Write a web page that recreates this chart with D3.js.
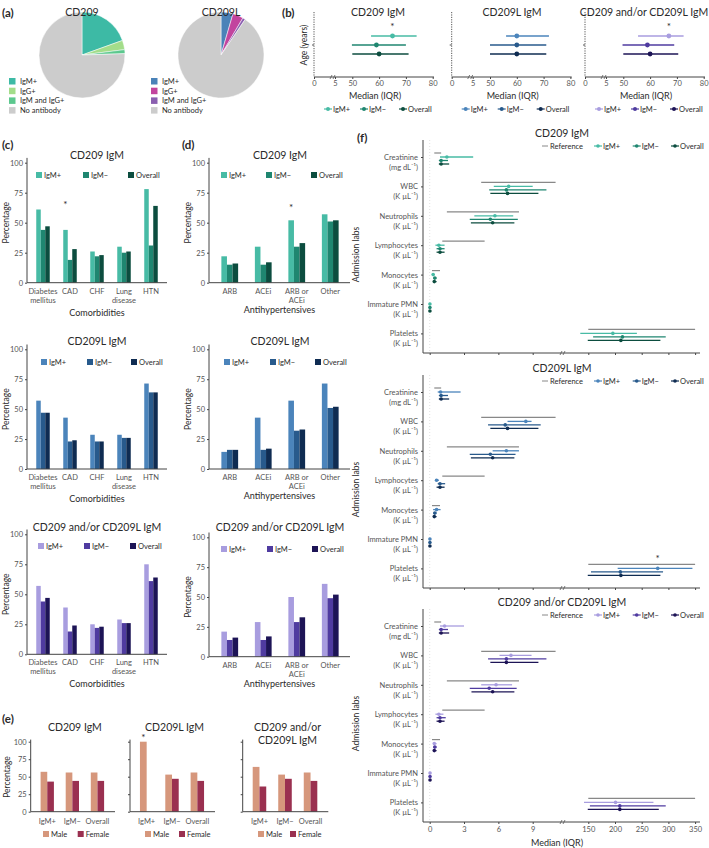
<html>
<head>
<script src="https://cdn.jsdelivr.net/npm/d3@7"></script>
<style>
  body { margin: 0; background: #fff; }
  text { font-family: Lato, "Open Sans", sans-serif; fill: #2a2a2a; }
  .tick text { fill: #555; }
</style>
</head>
<body>
<div id="fig"></div>
<script>
// ---------- data ----------
const pieCategories = ["IgM+", "IgG+", "IgM and IgG+", "No antibody"];
const pieCD209 = [19.5, 3.5, 1.5, 75.5];
const pieCD209L = [4.5, 4, 1, 90.5];

const groupTitles = ["CD209 IgM", "CD209L IgM", "CD209 and/or CD209L IgM"];
const seriesNames = ["IgM+", "IgM\u2212", "Overall"];

// age: per series [low, median, high]
const ageTicks = [0, 5, 50, 60, 70, 80];
const ageCD209 = [[57, 65, 74], [49, 59, 70], [50, 60, 71]];
const ageCD209L = [[56, 60, 72], [50, 60, 71], [50, 60, 71]];
const ageBoth = [[55.5, 67, 72.5], [48, 59, 69], [50, 60, 70.5]];

const pctTicks = [0, 25, 50, 75, 100];
const comorbidities = [["Diabetes", "mellitus"], ["CAD"], ["CHF"], ["Lung", "disease"], ["HTN"]];
// per series (IgM+, IgM-, Overall), values per comorbidity
const comorbCD209 = [[61, 44, 26, 30, 78], [44, 19, 22, 25, 31], [47, 28, 23, 26, 64]];
const comorbCD209L = [[57.1, 42.9, 28.6, 28.6, 71.4], [47, 23, 23, 26, 64], [47, 24, 23, 26, 64]];
const comorbBoth = [[57, 39, 25, 29, 75], [44, 19, 22, 26, 61], [47, 24, 23, 26, 64]];

const antihypertensives = [["ARB"], ["ACEi"], ["ARB or", "ACEi"], ["Other"]];
const antiCD209 = [[22, 30, 52, 57], [15, 15, 30, 51], [16, 17, 33, 52]];
const antiCD209L = [[14.3, 42.9, 57.1, 71.4], [16, 16, 32, 51], [16, 17, 33, 52]];
const antiBoth = [[21, 29, 50, 61], [14, 14, 29, 49], [16, 17, 33, 52]];

const sexNames = ["Male", "Female"];
// per sex, values per group (IgM+, IgM-, Overall)
const sexCD209 = [[57, 56, 56], [43, 44, 44]];
const sexCD209L = [[100, 53, 56], [0, 47, 44]];
const sexBoth = [[64, 53, 56], [36, 47, 44]];

const labs = ["Creatinine", "WBC", "Neutrophils", "Lymphocytes", "Monocytes", "Immature PMN", "Platelets"];
const labUnits = ["(mg dL\u207B\u00B9)", "(K \u00B5L\u207B\u00B9)", "(K \u00B5L\u207B\u00B9)", "(K \u00B5L\u207B\u00B9)",
                  "(K \u00B5L\u207B\u00B9)", "(K \u00B5L\u207B\u00B9)", "(K \u00B5L\u207B\u00B9)"];
const labRef = [[0.4, 1.0], [4.5, 11], [1.5, 7.8], [1.1, 4.8], [0.2, 0.9], null, [150, 350]];
const labTicks = [0, 3, 6, 9, 150, 200, 250, 300, 350];
// per lab: [IgM+, IgM-, Overall], each [low, median, high]
const labCD209 = [
  [[0.9, 1.5, 3.8], [0.8, 1.0, 1.6], [0.8, 1.0, 1.7]],
  [[5.6, 6.9, 9.0], [5.2, 6.7, 10.2], [5.3, 6.8, 9.5]],
  [[3.9, 5.7, 7.3], [3.5, 5.3, 7.7], [3.6, 5.5, 7.4]],
  [[0.5, 0.8, 1.3], [0.6, 0.9, 1.3], [0.6, 0.9, 1.3]],
  [[0.2, 0.3, 0.45], [0.3, 0.45, 0.6], [0.3, 0.4, 0.6]],
  [[0, 0.02, 0.05], [0, 0.02, 0.05], [0, 0.02, 0.05]],
  [[135, 196, 241], [159, 214, 295], [149, 211, 285]]
];
const labCD209L = [
  [[0.7, 0.95, 2.7], [0.8, 1.0, 1.6], [0.8, 1.0, 1.7]],
  [[6.8, 8.4, 8.9], [5.1, 6.6, 9.7], [5.3, 6.8, 9.5]],
  [[5.5, 6.7, 7.8], [3.5, 5.3, 7.5], [3.6, 5.5, 7.4]],
  [[0.5, 0.6, 0.8], [0.7, 0.9, 1.35], [0.6, 0.9, 1.3]],
  [[0.3, 0.6, 0.95], [0.3, 0.45, 0.6], [0.3, 0.4, 0.6]],
  [[0, 0.02, 0.05], [0, 0.02, 0.05], [0, 0.02, 0.05]],
  [[205, 280, 345], [155, 210, 290], [149, 211, 285]]
];
const labBoth = [
  [[0.9, 1.3, 3.0], [0.8, 1.0, 1.6], [0.8, 1.0, 1.7]],
  [[6.1, 7.1, 8.9], [5.1, 6.7, 10.2], [5.3, 6.7, 9.5]],
  [[4.5, 5.8, 7.2], [3.5, 5.2, 7.6], [3.65, 5.5, 7.4]],
  [[0.5, 0.8, 1.2], [0.6, 0.9, 1.4], [0.6, 0.9, 1.3]],
  [[0.3, 0.4, 0.6], [0.3, 0.45, 0.6], [0.3, 0.4, 0.6]],
  [[0, 0.03, 0.06], [0, 0.03, 0.06], [0, 0.03, 0.06]],
  [[142, 201, 272], [153, 209, 295], [149, 209, 282]]
];

// ---------- styles ----------
const palCD209 = ["#47bba5", "#1f8670", "#0c4d3f"];
const palCD209L = ["#4b84bb", "#285a8c", "#0f2c52"];
const palBoth = ["#a89ddf", "#4f3ba0", "#1d1456"];
const pieColCD209 = ["#3dbaa5", "#a3dd8a", "#5cc88e", "#cccccc"];
const pieColCD209L = ["#4a82b8", "#c2449e", "#8a5fb0", "#cccccc"];
const sexCols = ["#d6977c", "#9a3050"];
const titleSize = 10.5;

const svg = d3.select("#fig").append("svg").attr("width", 709).attr("height", 848);

function label(x, y, s, size, anchor, weight) {
  return svg.append("text").attr("x", x).attr("y", y).attr("font-size", size)
    .attr("text-anchor", anchor || "start").attr("font-weight", weight || "normal").text(s);
}
function vlabel(x, y, s, size) {
  return svg.append("text").attr("transform", `translate(${x},${y}) rotate(-90)`)
    .attr("font-size", size).attr("text-anchor", "middle").text(s);
}
function styleAxis(g) {
  g.select(".domain").remove();
  g.selectAll(".tick line").attr("stroke", "#444");
  g.selectAll(".tick text").attr("font-size", 7.5).attr("font-family", "Lato, sans-serif");
}
function breakMark(x, y) {
  svg.append("path").attr("d", `M${x - 3},${y + 2} L${x - 1},${y - 2} M${x},${y + 2} L${x + 2},${y - 2}`)
    .attr("stroke", "#555").attr("stroke-width", 0.8).attr("fill", "none");
}

// ---------- (a) pies ----------
label(2, 17, "(a)", 11.5, "start", "bold");
function drawPie(cx, cy, r, title, values, cols, legX) {
  const arcs = d3.pie().sort(null)(values);
  const arc = d3.arc().innerRadius(0).outerRadius(r);
  svg.append("g").attr("transform", `translate(${cx},${cy})`)
    .selectAll("path").data(arcs).join("path")
    .attr("d", arc).attr("fill", (d, i) => cols[i]).attr("stroke", "#fff").attr("stroke-width", 0.5);
  label(cx, 16, title, titleSize, "middle");
  pieCategories.forEach((c, i) => {
    svg.append("rect").attr("x", legX).attr("y", 78 + i * 9.7).attr("width", 6.5).attr("height", 6.5).attr("fill", cols[i]);
    label(legX + 11, 84 + i * 9.7, c, 7.5);
  });
}
drawPie(82, 55, 43, "CD209", pieCD209, pieColCD209, 9);
drawPie(221, 55, 43, "CD209L", pieCD209L, pieColCD209L, 151);

// ---------- (b) age ----------
label(282, 17, "(b)", 11.5, "start", "bold");
function drawAge(x0, data, pal, title, titleX, star) {
  const x = d3.scaleLinear().domain([0, 5, 50, 80]).range([x0, x0 + 21, x0 + 38.3, x0 + 118.7]);
  const y = d3.scalePoint().domain(seriesNames).range([36, 54]);
  svg.append("line").attr("x1", x0).attr("x2", x0).attr("y1", 12).attr("y2", 77)
    .attr("stroke", "#555").attr("stroke-dasharray", "1.2,1.2");
  svg.append("line").attr("x1", x0 - 2).attr("x2", x0).attr("y1", 45).attr("y2", 45).attr("stroke", "#555");
  svg.append("line").attr("x1", x0).attr("x2", x0 + 120).attr("y1", 77).attr("y2", 77).attr("stroke", "#444");
  const ax = svg.append("g").attr("transform", "translate(0,77)")
    .call(d3.axisBottom(x).tickValues(ageTicks).tickSize(2).tickPadding(2));
  styleAxis(ax);
  breakMark(x0 + 19, 77);
  label(x0 + 61, 99, "Median (IQR)", 9, "middle");
  label(titleX, 16, title, titleSize, "middle");
  const g = svg.append("g");
  g.selectAll("line.iqr").data(data).join("line")
    .attr("x1", d => x(d[0])).attr("x2", d => x(d[2]))
    .attr("y1", (d, i) => y(seriesNames[i])).attr("y2", (d, i) => y(seriesNames[i]))
    .attr("stroke", (d, i) => pal[i]).attr("stroke-width", 1.7);
  g.selectAll("circle").data(data).join("circle")
    .attr("cx", d => x(d[1])).attr("cy", (d, i) => y(seriesNames[i])).attr("r", 2.4)
    .attr("fill", (d, i) => pal[i]);
  if (star) label(x(data[0][1]), y(seriesNames[0]) - 6, "*", 10, "middle");
  [14, 50, 89].forEach((dx, i) => {
    svg.append("line").attr("x1", x0 + dx - 4).attr("x2", x0 + dx + 4).attr("y1", 109).attr("y2", 109)
      .attr("stroke", pal[i]).attr("stroke-width", 1.2);
    svg.append("circle").attr("cx", x0 + dx).attr("cy", 109).attr("r", 2).attr("fill", pal[i]);
    label(x0 + dx + 5, 111.5, seriesNames[i], 7.5);
  });
}
drawAge(314, ageCD209, palCD209, groupTitles[0], 378, true);
drawAge(451.7, ageCD209L, palCD209L, groupTitles[1], 512, false);
drawAge(585, ageBoth, palBoth, groupTitles[2], 644, true);
vlabel(307, 45, "Age (years)", 8.5);

// ---------- (c) / (d) bars ----------
label(2, 149, "(c)", 11.5, "start", "bold");
label(182, 149, "(d)", 11.5, "start", "bold");
function drawBars(o) {
  const y = d3.scaleLinear().domain([0, 100]).range([o.y0, o.y100]);
  const x = d3.scaleBand().domain(d3.range(o.cats.length)).range(o.band).paddingInner(0.5).paddingOuter(0.25);
  const xs = d3.scaleBand().domain(d3.range(o.vals.length)).range([0, x.bandwidth()]);
  const g = svg.append("g");
  o.vals.forEach((arr, s) => {
    g.selectAll(null).data(arr).join("rect")
      .attr("x", (d, i) => x(i) + xs(s)).attr("width", xs.bandwidth())
      .attr("y", d => y(d)).attr("height", d => y(0) - y(d))
      .attr("fill", o.colors[s]);
  });
  svg.append("line").attr("x1", o.axisX).attr("x2", o.axisX).attr("y1", y(104)).attr("y2", o.y0).attr("stroke", "#444");
  svg.append("line").attr("x1", o.axisX).attr("x2", o.xEnd).attr("y1", o.y0).attr("y2", o.y0).attr("stroke", "#444");
  const ya = svg.append("g").attr("transform", `translate(${o.axisX},0)`)
    .call(d3.axisLeft(y).tickValues(pctTicks).tickSize(2).tickPadding(2));
  styleAxis(ya);
  o.cats.forEach((c, i) => {
    const t = svg.append("text").attr("x", x(i) + x.bandwidth() / 2).attr("y", o.y0 + 11)
      .attr("font-size", 7.5).attr("text-anchor", "middle").style("fill", "#555");
    c.forEach((line, k) => t.append("tspan").attr("x", x(i) + x.bandwidth() / 2).attr("dy", k ? 9 : 0).text(line));
  });
  label((o.axisX + o.xEnd) / 2, o.y0 + o.xTitleDy, o.xTitle, 9, "middle");
  label(o.titleX, o.titleY, o.title, titleSize, "middle");
  vlabel(o.yLabX, (o.y0 + o.y100) / 2, "Percentage", 8.5);
  seriesNames.forEach((s, i) => {
    svg.append("rect").attr("x", o.legX[i]).attr("y", o.legY - 3).attr("width", 6).attr("height", 6).attr("fill", o.colors[i]);
    label(o.legX[i] + 8, o.legY + 3, s, 7.5);
  });
  if (o.star) label(x(o.star[0]) + xs(0) + xs.bandwidth() / 2, y(o.vals[0][o.star[0]]) - o.star[1], "*", 10, "middle");
}
const cRows = [
  { y100: 162.7, y0: 282.7, titleY: 159, legY: 175, legX: [36, 83, 128], legXd: [221, 266, 311] },
  { y100: 349.3, y0: 469, titleY: 345, legY: 362, legX: [41, 87, 131], legXd: [224, 270, 315] },
  { y100: 534.3, y0: 654.3, titleY: 531, legY: 546, legX: [38, 84, 130], legXd: [221, 267, 312] }
];
const comorbSets = [comorbCD209, comorbCD209L, comorbBoth];
const antiSets = [antiCD209, antiCD209L, antiBoth];
const pals = [palCD209, palCD209L, palBoth];
cRows.forEach((r, k) => {
  drawBars({ y100: r.y100, y0: r.y0, cats: comorbidities, vals: comorbSets[k], colors: pals[k],
    band: [29.5, 164.5], axisX: 27, xEnd: 167, xTitle: "Comorbidities", xTitleDy: 33,
    title: groupTitles[k], titleX: 97, titleY: r.titleY, yLabX: 9, legY: r.legY, legX: r.legX,
    star: k === 0 ? [1, 22] : null });
  drawBars({ y100: r.y100 + (k === 2 ? 3 : 0), y0: r.y0 + (k === 2 ? 2.4 : 0), cats: antihypertensives, vals: antiSets[k], colors: pals[k],
    band: [213, 347], axisX: 209, xEnd: 350, xTitle: "Antihypertensives", xTitleDy: 30,
    title: groupTitles[k], titleX: 280, titleY: r.titleY, yLabX: 191, legY: r.legY + (k === 2 ? 3 : 0), legX: r.legXd,
    star: k === 0 ? [2, 9] : null });
});

// ---------- (e) sex ----------
label(2, 723, "(e)", 11.5, "start", "bold");
const ePanels = [
  { axisX: 30.7, xEnd: 115, band: [34.7, 110], vals: sexCD209, title: ["CD209 IgM"], legX: [43, 77.7], ticks: true },
  { axisX: 130, xEnd: 215, band: [134, 210], vals: sexCD209L, title: ["CD209L IgM"], legX: [145, 179], star: 0 },
  { axisX: 242.7, xEnd: 328.3, band: [246.7, 323.3], vals: sexBoth, title: ["CD209 and/or", "CD209L IgM"], legX: [258, 290] }
];
ePanels.forEach(p => {
  const y = d3.scaleLinear().domain([0, 100]).range([811.7, 741.7]);
  const x = d3.scaleBand().domain(seriesNames).range(p.band).paddingInner(0.47).paddingOuter(0.235);
  const xs = d3.scaleBand().domain(sexNames).range([0, x.bandwidth()]);
  p.vals.forEach((arr, s) => {
    svg.append("g").selectAll("rect").data(arr).join("rect")
      .attr("x", (d, i) => x(seriesNames[i]) + xs(sexNames[s])).attr("width", xs.bandwidth())
      .attr("y", d => y(d)).attr("height", d => y(0) - y(d)).attr("fill", sexCols[s]);
  });
  svg.append("line").attr("x1", p.axisX).attr("x2", p.axisX).attr("y1", y(103)).attr("y2", y(0)).attr("stroke", "#444");
  svg.append("line").attr("x1", p.axisX).attr("x2", p.xEnd).attr("y1", y(0)).attr("y2", y(0)).attr("stroke", "#444");
  const ya = svg.append("g").attr("transform", `translate(${p.axisX},0)`)
    .call(d3.axisLeft(y).tickValues(pctTicks).tickSize(2).tickPadding(2).tickFormat(p.ticks ? null : ""));
  styleAxis(ya);
  const xa = svg.append("g").attr("transform", `translate(0,${y(0)})`)
    .call(d3.axisBottom(x).tickSize(0).tickPadding(7));
  styleAxis(xa);
  p.title.forEach((t, k) => label((p.axisX + p.xEnd) / 2 + 2, 731 + k * 13, t, titleSize, "middle"));
  sexNames.forEach((s, i) => {
    svg.append("rect").attr("x", p.legX[i]).attr("y", 831).attr("width", 6).attr("height", 6).attr("fill", sexCols[i]);
    label(p.legX[i] + 8, 837, s, 7.5);
  });
  if (p.star !== undefined) label(x(seriesNames[p.star]) + xs(sexNames[0]) + xs.bandwidth() / 2, y(p.vals[0][p.star]) - 1, "*", 10, "middle");
});
vlabel(10, 777, "Percentage", 8.5);

// ---------- (f) admission labs ----------
label(357, 142, "(f)", 11.5, "start", "bold");
function drawLabs(top, data, pal, title, showX, starLab) {
  const bottom = top + 213;
  const y = d3.scalePoint().domain(labs).range([top + 17, top + 17 + 6 * 29.4]);
  const x = d3.scaleLinear().domain([0, 11.5, 100, 350]).range([429.7, 561.3, 561.6, 695.1]);
  const offs = [0, 3.5, 7];
  svg.append("line").attr("x1", x(0)).attr("x2", x(0)).attr("y1", top).attr("y2", bottom)
    .attr("stroke", "#ccc").attr("stroke-width", 0.6).attr("stroke-dasharray", "1,2");
  svg.append("line").attr("x1", 423).attr("x2", 423).attr("y1", top).attr("y2", bottom).attr("stroke", "#444");
  svg.append("line").attr("x1", 423).attr("x2", 700).attr("y1", bottom).attr("y2", bottom).attr("stroke", "#444");
  const ya = svg.append("g").attr("transform", "translate(423,0)").call(d3.axisLeft(y).tickSize(2).tickFormat(""));
  styleAxis(ya);
  const xa = svg.append("g").attr("transform", `translate(0,${bottom})`)
    .call(d3.axisBottom(x).tickValues(labTicks).tickSize(2).tickPadding(3).tickFormat(showX ? null : ""));
  styleAxis(xa);
  breakMark(563, bottom);
  labs.forEach((l, i) => {
    label(418, y(l) + 3, l, 7.5, "end").style("fill", "#555");
    label(418, y(l) + 13, labUnits[i], 7.5, "end").style("fill", "#555");
  });
  const g = svg.append("g");
  g.selectAll("line.ref").data(labRef.map((r, i) => [r, labs[i]]).filter(d => d[0])).join("line")
    .attr("x1", d => x(d[0][0])).attr("x2", d => x(d[0][1]))
    .attr("y1", d => y(d[1]) - 4).attr("y2", d => y(d[1]) - 4)
    .attr("stroke", "#888").attr("stroke-width", 1.2);
  data.forEach((rows, i) => {
    rows.forEach((d, s) => {
      const yy = y(labs[i]) + offs[s];
      g.append("line").attr("x1", x(d[0])).attr("x2", x(d[2])).attr("y1", yy).attr("y2", yy)
        .attr("stroke", pal[s]).attr("stroke-width", 1.3);
      g.append("circle").attr("cx", x(d[1])).attr("cy", yy).attr("r", 1.8).attr("fill", pal[s]);
    });
  });
  if (starLab !== undefined) label(x(data[starLab][0][1]), y(labs[starLab]) - 6, "*", 10, "middle");
  label(562, top - 3, title, titleSize, "middle");
  const ly = top + 6;
  svg.append("line").attr("x1", 542).attr("x2", 548).attr("y1", ly).attr("y2", ly).attr("stroke", "#888").attr("stroke-width", 1);
  label(550, ly + 2.5, "Reference", 7.5);
  [598, 636.7, 675].forEach((mx, i) => {
    svg.append("line").attr("x1", mx - 4).attr("x2", mx + 4).attr("y1", ly).attr("y2", ly).attr("stroke", pal[i]).attr("stroke-width", 1.2);
    svg.append("circle").attr("cx", mx).attr("cy", ly).attr("r", 1.8).attr("fill", pal[i]);
    label(mx + 5, ly + 2.5, seriesNames[i], 7.5);
  });
  vlabel(359, (top + bottom) / 2 + 8, "Admission labs", 8.5);
  if (showX) label(557, bottom + 24, "Median (IQR)", 9, "middle");
}
drawLabs(140, labCD209, palCD209, groupTitles[0], false);
drawLabs(375, labCD209L, palCD209L, groupTitles[1], false, 6);
drawLabs(609, labBoth, palBoth, groupTitles[2], true);
</script>
</body>
</html>
